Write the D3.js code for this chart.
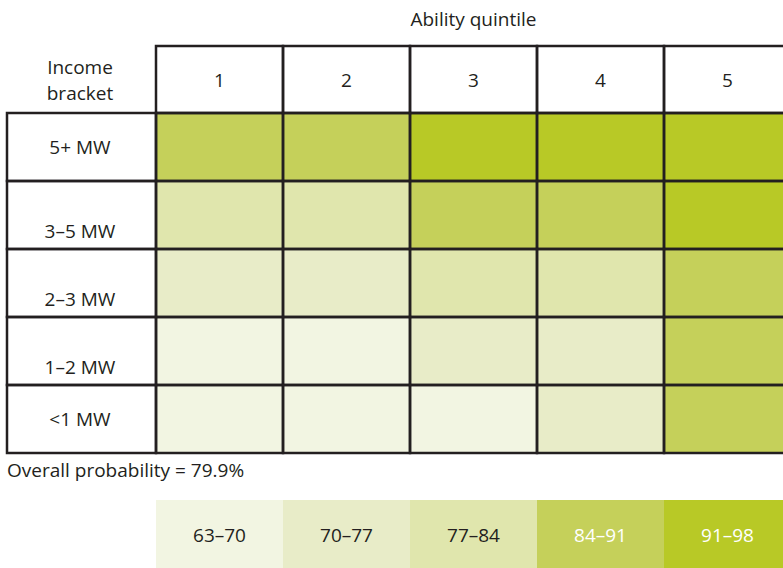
<!DOCTYPE html>
<html lang="en">
<head>
  <meta charset="UTF-8" />
  <title>Income bracket by ability quintile</title>
  <script src="https://d3js.org/d3.v7.min.js"></script>
  <style>
    body { margin: 0; background: #fff; }
    text { font-family: "Open Sans", Lato, sans-serif; fill: #231f20; }
  </style>
</head>
<body>
  <svg id="chart" width="783" height="568"></svg>

  <script>
    // data
    const quintiles = ["1", "2", "3", "4", "5"];
    const brackets = ["5+ MW", "3–5 MW", "2–3 MW", "1–2 MW", "<1 MW"];
    // estimated probability (%) per bracket (rows) x quintile (columns)
    const probs = [
      [88, 88, 94, 94, 95],
      [81, 81, 87, 87, 93],
      [74, 75, 80, 81, 89],
      [67, 68, 73, 74, 88],
      [65, 66, 69, 72, 87]
    ];
    const binLabels = ["63–70", "70–77", "77–84", "84–91", "91–98"];
    const binEdges = [70, 77, 84, 91];
    const binColors = ["#f2f5e2", "#e8ecc8", "#e0e6ad", "#c5d05a", "#b8c926"];
    const overall = "Overall probability = 79.9%";

    // where each row label sits inside its box
    const labelAlign = ["middle", "bottom", "bottom", "bottom", "middle"];

    const svg = d3.select("#chart");
    const ink = "#231f20";
    const fs = 19;

    const x = d3.scaleBand().domain(quintiles).range([156, 791]);
    const y = d3.scaleBand().domain(brackets).range([113, 453]);
    const color = d3.scaleThreshold().domain(binEdges).range(binColors);

    const cells = [];
    brackets.forEach((b, i) => {
      quintiles.forEach((q, j) => cells.push({ b: b, q: q, v: probs[i][j] }));
    });

    // heat cells
    svg.append("g").selectAll("rect")
      .data(cells)
      .join("rect")
        .attr("x", d => x(d.q))
        .attr("y", d => y(d.b))
        .attr("width", x.bandwidth())
        .attr("height", y.bandwidth())
        .attr("fill", d => color(d.v));

    // grid lines
    const grid = svg.append("g")
      .attr("stroke", ink)
      .attr("stroke-width", 2.5)
      .attr("fill", "none");

    // header row boxes
    grid.selectAll("rect.head")
      .data(quintiles)
      .join("rect")
        .attr("class", "head")
        .attr("x", d => x(d))
        .attr("y", 46)
        .attr("width", x.bandwidth())
        .attr("height", y.range()[0] - 46);

    // row label boxes
    grid.selectAll("rect.rowlab")
      .data(brackets)
      .join("rect")
        .attr("class", "rowlab")
        .attr("x", 7)
        .attr("y", d => y(d))
        .attr("width", x.range()[0] - 7)
        .attr("height", y.bandwidth());

    // cell borders
    grid.selectAll("rect.cell")
      .data(cells)
      .join("rect")
        .attr("class", "cell")
        .attr("x", d => x(d.q))
        .attr("y", d => y(d.b))
        .attr("width", x.bandwidth())
        .attr("height", y.bandwidth());

    // column titles
    svg.append("text")
      .attr("x", x("3") + x.bandwidth() / 2)
      .attr("y", 26)
      .attr("text-anchor", "middle")
      .attr("font-size", fs)
      .text("Ability quintile");

    svg.append("g").selectAll("text")
      .data(quintiles)
      .join("text")
        .attr("x", d => x(d) + x.bandwidth() / 2)
        .attr("y", 87)
        .attr("text-anchor", "middle")
        .attr("font-size", fs)
        .text(d => d);

    const rowHead = svg.append("text")
      .attr("text-anchor", "middle")
      .attr("font-size", fs);
    rowHead.append("tspan").attr("x", 80).attr("y", 74).text("Income");
    rowHead.append("tspan").attr("x", 80).attr("y", 100).text("bracket");

    // row labels
    svg.append("g").selectAll("text")
      .data(brackets)
      .join("text")
        .attr("x", 80)
        .attr("y", (d, i) => labelAlign[i] === "middle"
          ? y(d) + y.bandwidth() / 2 + 7
          : y(d) + y.bandwidth() - 11)
        .attr("text-anchor", "middle")
        .attr("font-size", fs)
        .text(d => d);

    svg.append("text")
      .attr("x", 7)
      .attr("y", 477)
      .attr("font-size", fs)
      .text(overall);

    // legend
    const lx = d3.scaleBand().domain(binLabels).range([156, 791]);
    const legend = svg.append("g").selectAll("g")
      .data(binLabels)
      .join("g")
        .attr("transform", d => `translate(${lx(d)},500)`);

    legend.append("rect")
      .attr("width", lx.bandwidth() + 0.5)
      .attr("height", 70)
      .attr("fill", (d, i) => binColors[i]);

    legend.append("text")
      .attr("x", lx.bandwidth() / 2)
      .attr("y", 42)
      .attr("text-anchor", "middle")
      .attr("font-size", fs)
      .style("fill", (d, i) => i >= 3 ? "#fff" : ink)
      .text(d => d);
  </script>
</body>
</html>
